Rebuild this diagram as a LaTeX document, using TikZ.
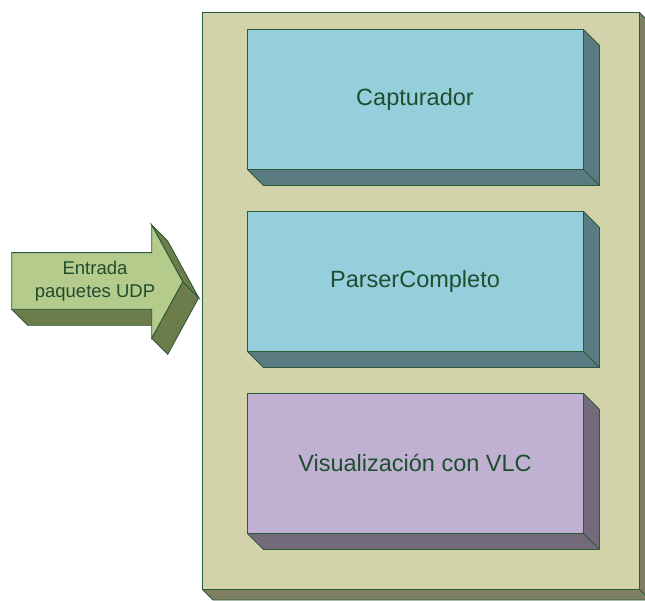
\documentclass[tikz,border=0pt]{standalone}
\usepackage{fontspec}
\usetikzlibrary{calc}
\setmainfont{Liberation Sans}
\definecolor{edge}{HTML}{2B5A36}
\definecolor{txt}{HTML}{1F4D2F}
\definecolor{panelF}{HTML}{D3D3AB}
\definecolor{panelS}{HTML}{7F7F63}
\definecolor{cyanF}{HTML}{96CFDC}
\definecolor{cyanS}{HTML}{5B7B82}
\definecolor{lilacF}{HTML}{C0B1D2}
\definecolor{lilacS}{HTML}{736A7C}
\definecolor{arrowF}{HTML}{B5CB8C}
\definecolor{arrowS}{HTML}{6D7C4B}
\tikzset{
  outline/.style={draw=edge, line width=0.9pt, line join=miter},
  boxlabel/.style={font=\fontsize{23.5}{28}\selectfont, text=txt},
  arrowlabel/.style={font=\fontsize{18.5}{23}\selectfont, text=txt, align=center},
}
% extruded block: #1,#2 top-left; #3,#4 bottom-right; #5 depth; #6 face; #7 side
\newcommand{\slab}[7]{%
  \fill[#7] (#3,#2) -- ({#3+#5},{#2+#5}) -- ({#3+#5},{#4+#5}) -- ({#1+#5},{#4+#5}) -- (#1,#4) -- (#3,#4) -- cycle;
  \draw[outline] (#3,#2) -- ({#3+#5},{#2+#5}) -- ({#3+#5},{#4+#5}) -- ({#1+#5},{#4+#5}) -- (#1,#4);
  \draw[outline] (#3,#4) -- ({#3+#5},{#4+#5});
  \filldraw[outline, fill=#6] (#1,#2) rectangle (#3,#4);
}
\begin{document}
\begin{tikzpicture}[x=1pt, y=-1pt]
  \useasboundingbox (0,0) rectangle (645,601);
  % container panel
  \slab{202}{12}{639}{589}{11}{panelF}{panelS}
  % stacked modules
  \slab{247}{29}{583}{169}{16.5}{cyanF}{cyanS}
  \slab{247}{211}{583}{351}{16.5}{cyanF}{cyanS}
  \slab{247}{393}{583}{533}{16.5}{lilacF}{lilacS}
  \node[boxlabel] (cap) at (415,99) {Capturador};
  \node[boxlabel] (par) at (415,281) {ParserCompleto};
  \node[boxlabel] (vis) at (415,463) {Visualización con VLC};
  % input arrow, extruded: side faces first, then the front
  \def\d{16}
  \coordinate (sl) at (11.7,309.3);
  \coordinate (sr) at (151.7,309.3);
  \coordinate (hb) at (151.7,338.3);
  \coordinate (tp) at (182.7,281.7);
  \coordinate (ht) at (151.7,225);
  \filldraw[outline, fill=arrowS] (sl) -- (sr) -- ++(\d,\d) -- ($(sl)+(\d,\d)$) -- cycle;
  \filldraw[outline, fill=arrowS] (hb) -- (tp) -- ++(\d,\d) -- ($(hb)+(\d,\d)$) -- cycle;
  \filldraw[outline, fill=arrowS] (ht) -- (tp) -- ++(\d,\d) -- ($(ht)+(\d,\d)$) -- cycle;
  \filldraw[outline, fill=arrowF] (11.7,252.7) -- (151.7,252.7) -- (ht) -- (tp)
     -- (hb) -- (sr) -- (sl) -- cycle;
  \node[arrowlabel] (inp) at (95,281) {Entrada\\paquetes UDP};
\end{tikzpicture}
\end{document}
